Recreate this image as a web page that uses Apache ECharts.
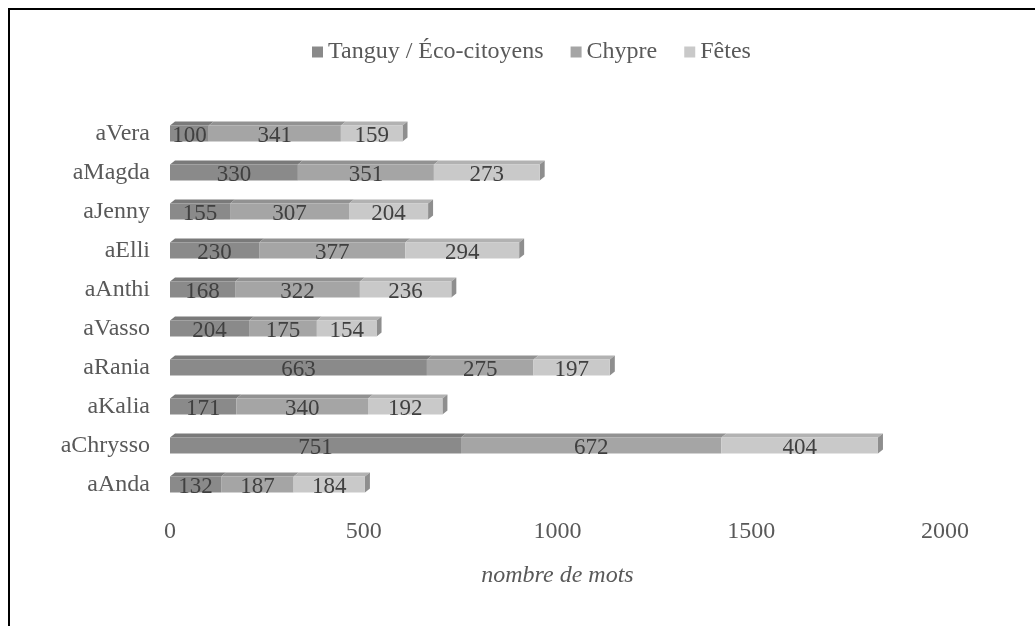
<!DOCTYPE html>
<html>
<head>
<meta charset="utf-8">
<script src="https://cdn.jsdelivr.net/npm/echarts@6/dist/echarts.min.js"></script>
<style>
  html, body { margin: 0; padding: 0; background: #fff; }
  #main { width: 1035px; height: 626px; }
</style>
</head>
<body>
<div id="main"></div>
<script>
// categories from bottom to top (category axis starts at the bottom)
var personnes = ["aAnda", "aChrysso", "aKalia", "aRania", "aVasso", "aAnthi", "aElli", "aJenny", "aMagda", "aVera"];
var tanguy = [132, 751, 171, 663, 204, 168, 230, 155, 330, 100];
var chypre = [187, 672, 340, 275, 175, 322, 377, 307, 351, 341];
var fetes = [184, 404, 192, 197, 154, 236, 294, 204, 273, 159];
var nomsSeries = ["Tanguy / Éco-citoyens", "Chypre", "Fêtes"];
var xTicks = [0, 500, 1000, 1500, 2000];

var couleurs = ["#8a8a8a", "#a5a5a5", "#c9c9c9"];
var dessus = ["#7a7a7a", "#929292", "#b2b2b2"]; // faces du dessus
var cote = "#8e8e8e"; // face de droite
var police = "Liberation Serif, Times New Roman, serif";

var barH = 16;
var dx = 5, dy = 4;

var decorData = personnes.map(function (p, i) {
  return [i, tanguy[i], chypre[i], fetes[i]];
});

function renderDecor(params, api) {
  var cat = api.value(0);
  var vals = [api.value(1), api.value(2), api.value(3)];
  var children = [];
  var start = 0;
  var c0 = api.coord([0, cat]);
  var yTop = c0[1] - barH / 2;
  var yBot = c0[1] + barH / 2;
  for (var k = 0; k < 3; k++) {
    var x0 = api.coord([start, cat])[0];
    var x1 = api.coord([start + vals[k], cat])[0];
    children.push({
      type: "polygon",
      shape: { points: [[x0, yTop], [x1, yTop], [x1 + dx, yTop - dy], [x0 + dx, yTop - dy]] },
      style: { fill: dessus[k] }
    });
    start += vals[k];
  }
  var xe = api.coord([start, cat])[0];
  children.push({
    type: "polygon",
    shape: { points: [[xe, yTop], [xe + dx, yTop - dy], [xe + dx, yBot - dy], [xe, yBot]] },
    style: { fill: cote }
  });
  return { type: "group", children: children };
}

var myChart = echarts.init(document.getElementById("main"));

function barSerie(nom, data, k) {
  return {
    name: nom,
    type: "bar",
    stack: "total",
    data: data,
    barWidth: barH,
    itemStyle: { color: couleurs[k] },
    label: {
      show: true,
      position: "inside",
      color: "#404040",
      fontFamily: police,
      fontSize: 23,
      offset: [0, 2]
    },
    emphasis: { disabled: true },
    z: 2
  };
}

var option = {
  animation: false,
  textStyle: { fontFamily: police },
  graphic: [
    {
      type: "polyline",
      shape: { points: [[9, 626], [9, 9], [1035, 9]] },
      style: { stroke: "#000", lineWidth: 2, fill: null }
    }
  ],
  legend: {
    data: nomsSeries,
    top: 35,
    left: 307,
    icon: "rect",
    itemWidth: 11,
    itemHeight: 11,
    itemGap: 27,
    textStyle: { color: "#595959", fontSize: 24, fontFamily: police }
  },
  grid: {
    left: 170,
    right: 90,
    top: 114,
    bottom: 122
  },
  xAxis: {
    type: "value",
    min: xTicks[0],
    max: xTicks[xTicks.length - 1],
    interval: 500,
    name: "nombre de mots",
    nameLocation: "middle",
    nameGap: 60,
    nameTextStyle: { color: "#595959", fontSize: 24, fontStyle: "italic", fontFamily: police },
    axisLine: { show: false },
    axisTick: { show: false },
    splitLine: { show: false },
    axisLabel: {
      color: "#595959",
      fontSize: 24,
      fontFamily: police,
      margin: 16,
      formatter: function (v) { return String(v); }
    }
  },
  yAxis: {
    type: "category",
    data: personnes,
    axisLine: { show: false },
    axisTick: { show: false },
    axisLabel: { color: "#595959", fontSize: 24, fontFamily: police, margin: 20 }
  },
  series: [
    barSerie(nomsSeries[0], tanguy, 0),
    barSerie(nomsSeries[1], chypre, 1),
    barSerie(nomsSeries[2], fetes, 2),
    {
      name: "decor",
      type: "custom",
      renderItem: renderDecor,
      data: decorData,
      encode: { y: 0, x: [1, 2, 3] },
      silent: true,
      z: 1
    }
  ]
};
myChart.setOption(option);
window.addEventListener("resize", () => {
  myChart.resize();
});
</script>
</body>
</html>
